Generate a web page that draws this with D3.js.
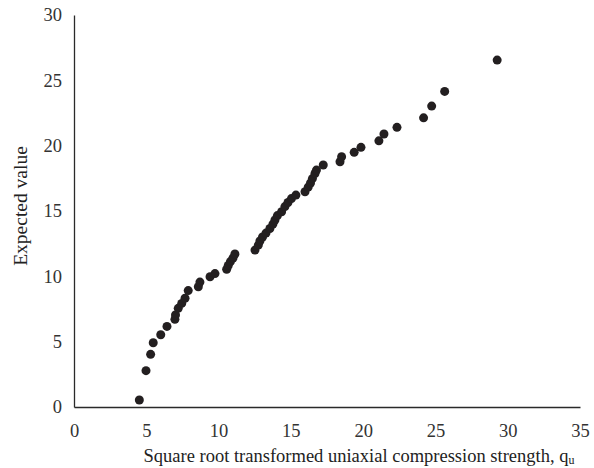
<!DOCTYPE html>
<html>
<head>
<meta charset="utf-8">
<script src="https://cdn.jsdelivr.net/npm/d3@7"></script>
<style>
  html, body { margin: 0; padding: 0; background: #fff; }
  svg { display: block; font-family: "Liberation Serif", "Times New Roman", serif; }
</style>
</head>
<body>
<svg id="chart" width="594" height="468"></svg>
<script>
// Square-root transformed q_u (x) against expected value (y)
const sqrtQu = [4.52, 4.98, 5.30, 5.48, 6.00, 6.43, 6.98, 7.02, 7.21, 7.45, 7.68, 7.90,
  8.60, 8.71, 9.41, 9.75, 10.56, 10.67, 10.82, 11.00, 11.13, 12.52, 12.75, 12.86, 13.04,
  13.28, 13.55, 13.76, 13.90, 14.07, 14.36, 14.59, 14.80, 15.04, 15.35, 15.98, 16.20,
  16.36, 16.49, 16.67, 16.77, 17.24, 18.40, 18.51, 19.38, 19.85, 21.09, 21.44, 22.34,
  24.18, 24.74, 25.64, 29.27];
const expectedValue = [0.54, 2.78, 4.03, 4.92, 5.53, 6.17, 6.71, 7.04, 7.55, 7.93, 8.32, 8.91,
  9.20, 9.56, 9.97, 10.21, 10.54, 10.83, 11.13, 11.40, 11.71, 12.01, 12.39, 12.70, 13.01,
  13.31, 13.66, 14.00, 14.31, 14.65, 14.94, 15.34, 15.65, 15.95, 16.22, 16.47, 16.83,
  17.14, 17.48, 17.87, 18.13, 18.52, 18.77, 19.15, 19.49, 19.87, 20.37, 20.89, 21.40,
  22.13, 23.03, 24.15, 26.55];
const xTicks = [0, 5, 10, 15, 20, 25, 30, 35];
const yTicks = [0, 5, 10, 15, 20, 25, 30];

const svg = d3.select("#chart");
const plotLeft = 74, plotRight = 580, plotTop = 15, plotBottom = 407;

const x = d3.scaleLinear().domain([0, 35]).range([plotLeft, plotRight]);
const y = d3.scaleLinear().domain([0, 30]).range([plotBottom, plotTop]);

const ink = "#231f20";

// axes: plain lines, no tick marks
const xAxis = svg.append("g")
  .attr("transform", `translate(0,${plotBottom})`)
  .call(d3.axisBottom(x).tickValues(xTicks).tickSize(0).tickPadding(17));
const yAxis = svg.append("g")
  .attr("transform", `translate(${plotLeft},0)`)
  .call(d3.axisLeft(y).tickValues(yTicks).tickSize(0).tickPadding(12));

[xAxis, yAxis].forEach(g => {
  g.select(".domain").attr("stroke", "#2a2a2a").attr("stroke-width", 1.3);
  g.selectAll("text")
    .attr("font-family", "'Liberation Serif', 'Times New Roman', serif")
    .attr("font-size", 18.5)
    .attr("fill", "#333");
});

// points
const pts = sqrtQu.map((v, i) => ({ x: v, y: expectedValue[i] }));
svg.append("g").selectAll("circle")
  .data(pts)
  .join("circle")
  .attr("cx", d => x(d.x))
  .attr("cy", d => y(d.y))
  .attr("r", 4.5)
  .attr("fill", ink);

// axis titles
const xt = svg.append("text")
  .attr("x", 359)
  .attr("y", 462)
  .attr("text-anchor", "middle")
  .attr("font-size", 18.5)
  .attr("fill", "#222");
xt.append("tspan").text("Square root transformed uniaxial compression strength, q");
xt.append("tspan").attr("font-size", 12).attr("dy", 2).text("u");

svg.append("text")
  .attr("transform", "translate(27,206) rotate(-90)")
  .attr("text-anchor", "middle")
  .attr("font-size", 19.5)
  .attr("fill", "#222")
  .text("Expected value");
</script>
</body>
</html>
